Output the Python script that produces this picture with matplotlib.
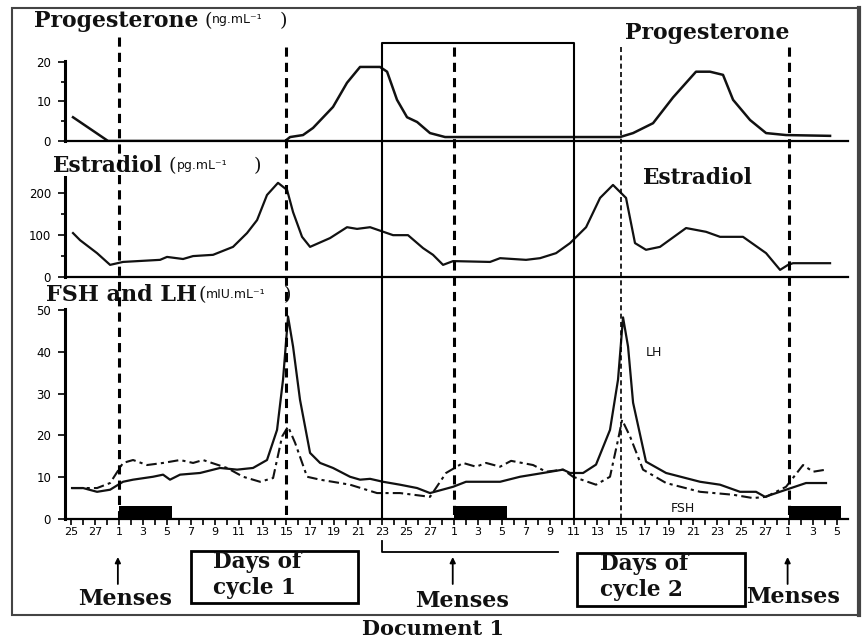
import numpy as np
import matplotlib
matplotlib.use("Agg")
import matplotlib.pyplot as plt
from matplotlib.transforms import blended_transform_factory
from matplotlib.patches import Rectangle

# day index t: 0 = day 1 of cycle 1, 28 = day 1 of cycle 2, 56 = day 1 of cycle 3
PROG_T = [-3.85, -0.92, 13.88, 14.30, 15.38, 16.22, 17.89, 19.06, 20.15, 21.82, 22.41, 23.24,
          24.08, 24.92, 26.0, 27.26, 41.89, 42.98, 44.65, 46.32, 48.24, 49.41, 50.5, 51.34,
          52.76, 54.1, 55.77, 59.45]
PROG_V = [6, 0, 0, 1, 1.5, 3.3, 8.6, 14.7, 18.7, 18.7, 17.5, 10.4,
          6, 4.8, 2, 1, 1, 2, 4.5, 11, 17.5, 17.5, 16.7, 10.4,
          5.3, 2, 1.5, 1.3]

E2_T = [-3.85, -3.26, -1.84, -0.75, 0.33, 3.43, 4.01, 5.35, 6.19, 7.86, 9.53, 10.70, 11.54,
        12.37, 13.29, 14.05, 14.55, 15.30, 15.97, 17.64, 19.06, 19.90, 20.99, 22.91, 24.16,
        25.42, 26.25, 27.09, 27.93, 31.02, 31.86, 34.03, 35.20, 36.54, 37.71, 39.05, 40.22,
        41.30, 42.39, 43.14, 44.06, 45.23, 47.41, 49.08, 50.25, 52.17, 54.10, 55.27, 55.94,
        56.35, 59.45]
E2_V = [105, 88, 57, 29, 36, 41, 48, 43, 50, 53, 72, 105, 136,
        196, 225, 208, 155, 96, 72, 93, 119, 115, 119, 100, 100,
        69, 53, 29, 38, 36, 45, 41, 45, 57, 81, 119, 189,
        220, 189, 81, 65, 72, 117, 108, 96, 96, 57, 17, 29,
        33, 33]

LH_T = [-3.93, -3.01, -1.84, -0.75, 0.33, 1.17, 2.84, 3.68, 4.26, 5.10, 6.77, 8.44, 9.87,
        11.20, 12.37, 13.21, 13.71, 14.13, 14.55, 15.13, 15.97, 16.81, 17.89, 19.31, 20.15,
        20.99, 22.07, 23.49, 24.92, 26.0, 27.93, 29.01, 31.86, 33.53, 35.45, 37.12, 37.71,
        38.80, 39.88, 41.05, 41.72, 42.14, 42.56, 42.98, 44.06, 45.74, 48.58, 50.25, 51.92,
        53.26, 54.01, 55.77, 57.44, 59.11]
LH_V = [7.4, 7.4, 6.5, 7.0, 8.9, 9.4, 10.1, 10.6, 9.4, 10.6, 11.0, 12.2, 11.8,
        12.2, 14.1, 21.3, 33.3, 48.4, 41.2, 28.5, 15.8, 13.4, 12.2, 10.1, 9.4,
        9.6, 8.9, 8.2, 7.4, 6.2, 7.7, 8.9, 8.9, 10.1, 11.0, 11.8, 11.0,
        11.0, 13.0, 21.3, 33.3, 48.2, 41.2, 27.8, 13.7, 11.0, 8.9, 8.2, 6.5,
        6.5, 5.3, 7.0, 8.6, 8.6]

FSH_T = [-3.93, -1.84, -0.75, 0.33, 1.17, 2.34, 3.68, 5.10, 6.19, 7.02, 9.03, 10.37, 11.79,
         12.88, 13.63, 14.13, 14.72, 15.72, 16.81, 19.31, 21.57, 23.49, 26.00, 27.34, 28.76,
         29.85, 30.69, 31.86, 32.78, 34.62, 35.70, 37.12, 37.96, 39.88, 41.05, 41.72, 42.06,
         42.73, 43.81, 45.74, 48.58, 51.34, 53.01, 54.10, 55.77, 57.19, 58.03, 59.11]
FSH_V = [7.4, 7.4, 8.6, 13.4, 14.1, 12.9, 13.4, 14.1, 13.4, 14.1, 12.2, 10.1, 8.9,
         9.8, 19.7, 22.1, 18.2, 10.1, 9.4, 8.2, 6.2, 6.2, 5.3, 11.0, 13.4,
         12.5, 13.4, 12.5, 13.9, 12.9, 11.3, 11.8, 10.1, 8.2, 10.1, 18.9, 23.7,
         19.7, 11.8, 8.6, 6.5, 5.8, 5.0, 5.3, 7.7, 12.9, 11.3, 11.8]

MENSES_START = [0, 28, 56]
MENSES_LEN = 4.4
MENSES_H = 3
DASHED_DAYS = [0, 14, 28, 42, 56]
BOX_DAYS = (22, 38)
BRACKET_DAYS = (22, 36.7)
CYCLE = 28
TICK_DAYS = np.arange(-4, 61)

W, H = 866, 642
SERIF = "DejaVu Serif"
SANS = "DejaVu Sans"


def box(x0, y0, x1, y1):
    return [x0 / W, 1 - y1 / H, (x1 - x0) / W, (y1 - y0) / H]


def fy(ypx):
    return 1 - ypx / H


fig = plt.figure(figsize=(W / 100, H / 100), dpi=100)
bg = fig.add_axes([0, 0, 1, 1])
bg.set_xlim(0, W); bg.set_ylim(H, 0); bg.axis("off")

ax_p = fig.add_axes(box(65, 61, 848, 141))
ax_e = fig.add_axes(box(65, 177, 848, 277))
ax_h = fig.add_axes(box(65, 309, 848, 519))
for ax in (ax_p, ax_e, ax_h):
    ax.set_facecolor("none")
    ax.set_xlim(-4.52, 60.95)
    for s in ("top", "right"):
        ax.spines[s].set_visible(False)
    ax.spines["left"].set_linewidth(2.2)
    ax.spines["bottom"].set_linewidth(1.6)
    ax.tick_params(axis="y", direction="out", length=5, width=1.2, pad=5, labelsize=8.5)
    ax.tick_params(axis="y", which="minor", length=3, width=1.2)

ax_p.set_ylim(0, 20.2)
ax_p.set_yticks([0, 10, 20]); ax_p.set_yticks([5, 15], minor=True)
ax_e.set_ylim(0, 239)
ax_e.set_yticks([0, 100, 200]); ax_e.set_yticks([50, 150], minor=True)
ax_h.set_ylim(0, 50.2)
ax_h.set_yticks([0, 10, 20, 30, 40, 50])
for ax in (ax_p, ax_e):
    ax.set_xticks([])

ax_h.set_xticks(TICK_DAYS)
ax_h.set_xticklabels([str(t % CYCLE + 1) if t % 2 == 0 else "" for t in TICK_DAYS])
ax_h.tick_params(axis="x", direction="out", length=4, width=1.2, pad=2, labelsize=8)

# hormone curves
ax_p.plot(PROG_T, PROG_V, color="#111", lw=1.8)
ax_e.plot(E2_T, E2_V, color="#111", lw=1.6)
ax_h.plot(LH_T, LH_V, color="#111", lw=1.6)
ax_h.plot(FSH_T, FSH_V, color="#111", lw=1.5, ls=(0, (5, 2, 1.5, 2)))
ax_h.bar(MENSES_START, MENSES_H, width=MENSES_LEN, align="edge", color="black")

# vertical reference lines running through the three panels
tr = blended_transform_factory(ax_h.transData, fig.transFigure)
for i, d in enumerate(DASHED_DAYS):
    top = 37 if i == 0 else 47
    lw = 1.2 if d == 42 else 2.2
    ax_h.plot([d, d], [fy(top), fy(519)], transform=tr, clip_on=False,
              color="black", lw=lw, ls=(0, (3, 2)))
b0, b1 = BOX_DAYS
ax_h.plot([b0, b0, b1, b1], [fy(519), fy(43), fy(43), fy(519)], transform=tr,
          clip_on=False, color="black", lw=1.5)
c0, c1 = BRACKET_DAYS
ax_h.plot([c0, c0, c1], [fy(541), fy(552), fy(552)], transform=tr,
          clip_on=False, color="black", lw=1.3)

# menses arrows
for d in MENSES_START:
    ax_h.annotate("", xy=(d - 0.1, fy(557)), xytext=(d - 0.1, fy(584)),
                  xycoords=("data", "figure fraction"), textcoords=("data", "figure fraction"),
                  annotation_clip=False,
                  arrowprops=dict(arrowstyle="-|>", color="black", lw=1.3,
                                  mutation_scale=8, shrinkA=0, shrinkB=0))

# frame
bg.add_patch(Rectangle((12, 8), 847, 607, fill=False, lw=1.5, ec="#444"))
bg.plot([859, 859], [8, 615], color="#444", lw=3)

# titles
bold = dict(family=SERIF, fontweight="bold", color="#111")
unit = dict(family=SANS, fontsize=9, va="center", ha="left", color="#111")
paren = dict(family=SERIF, fontsize=14, va="center", ha="left", color="#111")

bg.text(34, 21, "Progesterone", fontsize=15.8, va="center", ha="left", **bold)
bg.text(204, 21, "(", **paren)
bg.text(212, 20, "ng.mL\u207b\u00b9", **unit)
bg.text(280, 21, ")", **paren)

bg.text(52, 166, "Estradiol", fontsize=15.6, va="center", ha="left", **bold)
bg.text(168, 166, "(", **paren)
bg.text(177, 165, "pg.mL\u207b\u00b9", **unit)
bg.text(254, 166, ")", **paren)

bg.text(46, 295, "FSH and LH", fontsize=16, va="center", ha="left", **bold)
bg.text(198, 295, "(", **paren)
bg.text(206, 294, "mIU.mL\u207b\u00b9", **unit)
bg.text(284, 295, ")", **paren)

bg.text(707, 33, "Progesterone", fontsize=15.8, va="center", ha="center", **bold)
bg.text(697, 178, "Estradiol", fontsize=15.6, va="center", ha="center", **bold)
bg.text(654, 352, "LH", fontsize=9, va="center", ha="center", family=SANS, color="#111")
bg.text(683, 509, "FSH", fontsize=9, va="center", ha="center", family=SANS, color="#111")

# bottom annotations
bg.add_patch(Rectangle((191, 551), 167, 52, fill=False, lw=2, ec="black"))
bg.add_patch(Rectangle((577, 553), 168, 53, fill=False, lw=2, ec="black"))
bg.text(213, 562, "Days of", fontsize=15.5, va="center", ha="left", **bold)
bg.text(213, 588, "cycle 1", fontsize=15.5, va="center", ha="left", **bold)
bg.text(600, 564, "Days of", fontsize=15.5, va="center", ha="left", **bold)
bg.text(600, 590, "cycle 2", fontsize=15.5, va="center", ha="left", **bold)
bg.text(125, 599, "Menses", fontsize=16, va="center", ha="center", **bold)
bg.text(462, 601, "Menses", fontsize=16, va="center", ha="center", **bold)
bg.text(793, 597, "Menses", fontsize=16, va="center", ha="center", **bold)
bg.text(433, 629, "Document 1", fontsize=15, va="center", ha="center", **bold)

fig.savefig("out.png", dpi=100)
